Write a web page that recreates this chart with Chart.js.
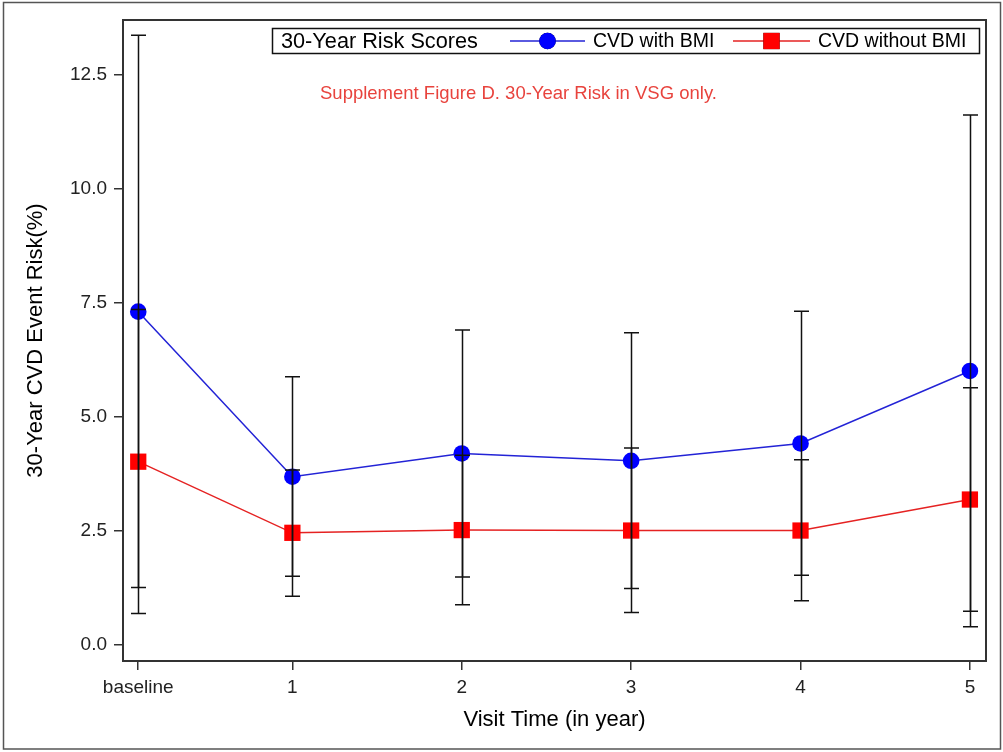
<!DOCTYPE html>
<html><head><meta charset="utf-8">
<script src="https://cdn.jsdelivr.net/npm/chart.js@4/dist/chart.umd.min.js"></script>
<style>html,body{margin:0;padding:0;background:#fff}#wrap{width:1003px;height:752px}</style>
</head><body><div id="wrap"><canvas id="c" width="1003" height="752"></canvas></div>
<script>
// ---- data ----
const visitLabels = ['baseline', '1', '2', '3', '4', '5'];
const visitYears = [0.09, 1, 2, 3, 4, 5];
const yTickValues = [0, 2.5, 5, 7.5, 10, 12.5];
const withBMI = [7.31, 3.69, 4.20, 4.04, 4.42, 6.01];
const withBMIUpper = [13.37, 5.88, 6.91, 6.85, 7.32, 11.62];
const withBMILower = [1.26, 1.51, 1.49, 1.24, 1.53, 0.40];
const withoutBMI = [4.02, 2.46, 2.52, 2.51, 2.51, 3.19];
const withoutBMIUpper = [7.36, 3.84, 4.16, 4.32, 4.06, 5.64];
const withoutBMILower = [0.69, 1.07, 0.88, 0.71, 0.97, 0.74];
const legendTitle = '30-Year Risk Scores';
const noteText = 'Supplement Figure D. 30-Year Risk in VSG only.';

const FONT = "'Liberation Sans', Arial, sans-serif";

const errorSets = [
  {lo: withBMILower, hi: withBMIUpper},
  {lo: withoutBMILower, hi: withoutBMIUpper}
];

const decor = {
  id: 'decor',
  beforeDraw(chart) {
    const ctx = chart.ctx;
    ctx.save();
    ctx.fillStyle = '#fff';
    ctx.fillRect(0, 0, chart.width, chart.height);
    ctx.restore();
  },
  afterDatasetsDraw(chart) {
    const {ctx, scales: {x, y}} = chart;
    ctx.save();
    ctx.strokeStyle = '#111';
    ctx.lineWidth = 1.5;
    errorSets.forEach(({lo, hi}) => {
      visitYears.forEach((t, i) => {
        const px = Math.round(x.getPixelForValue(t)) + 0.5;
        const y1 = y.getPixelForValue(lo[i]);
        const y2 = y.getPixelForValue(hi[i]);
        ctx.beginPath();
        ctx.moveTo(px, y1); ctx.lineTo(px, y2);
        ctx.moveTo(px - 7.5, y1); ctx.lineTo(px + 7.5, y1);
        ctx.moveTo(px - 7.5, y2); ctx.lineTo(px + 7.5, y2);
        ctx.stroke();
      });
    });
    ctx.restore();
  },
  afterDraw(chart) {
    const {ctx, chartArea: a} = chart;
    ctx.save();
    // plot frame
    ctx.strokeStyle = '#333';
    ctx.lineWidth = 2;
    ctx.strokeRect(a.left, a.top, a.right - a.left, a.bottom - a.top);
    // outer border
    ctx.strokeStyle = '#555';
    ctx.lineWidth = 1.5;
    ctx.strokeRect(3.5, 2.5, 997, 746.5);

    // legend box
    const bx = 272.5, by = 28.5, bw = 707, bh = 25;
    ctx.fillStyle = '#fff';
    ctx.fillRect(bx, by, bw, bh);
    ctx.strokeStyle = '#111';
    ctx.lineWidth = 1.5;
    ctx.strokeRect(bx, by, bw, bh);
    const cy = by + bh / 2;
    ctx.fillStyle = '#000';
    ctx.textBaseline = 'middle';
    ctx.textAlign = 'left';
    ctx.font = '21.7px ' + FONT;
    ctx.fillText(legendTitle, 281, cy + 1);
    const items = [
      {x0: 510, x1: 585, tx: 593},
      {x0: 733, x1: 810, tx: 818}
    ];
    chart.data.datasets.forEach((ds, i) => {
      const it = items[i];
      ctx.strokeStyle = ds.borderColor;
      ctx.lineWidth = ds.borderWidth;
      ctx.beginPath(); ctx.moveTo(it.x0, cy); ctx.lineTo(it.x1, cy); ctx.stroke();
      Chart.helpers.drawPoint(ctx, {
        pointStyle: ds.pointStyle, radius: ds.pointRadius, rotation: 0, borderWidth: 0
      }, (it.x0 + it.x1) / 2, cy);
      ctx.fillStyle = ds.pointBackgroundColor;
      ctx.fill();
      ctx.fillStyle = '#000';
      ctx.font = '19.5px ' + FONT;
      ctx.fillText(ds.label, it.tx, cy + 1);
    });

    // note text
    ctx.fillStyle = '#e8433d';
    ctx.font = '18.5px ' + FONT;
    ctx.fillText(noteText, 320, 94);
    ctx.restore();
  }
};

new Chart(document.getElementById('c'), {
  type: 'line',
  data: {
    datasets: [
      {
        label: 'CVD with BMI',
        data: visitYears.map((t, i) => ({x: t, y: withBMI[i]})),
        borderColor: '#2323d6',
        borderWidth: 1.5,
        pointStyle: 'circle',
        pointRadius: 8.3,
        pointHoverRadius: 8.3,
        pointBackgroundColor: '#0000ff',
        pointBorderColor: '#0000ff',
        pointBorderWidth: 0,
        tension: 0
      },
      {
        label: 'CVD without BMI',
        data: visitYears.map((t, i) => ({x: t, y: withoutBMI[i]})),
        borderColor: '#e52222',
        borderWidth: 1.5,
        pointStyle: 'rect',
        pointRadius: 11.5,
        pointHoverRadius: 11.5,
        pointBackgroundColor: '#ff0000',
        pointBorderColor: '#ff0000',
        pointBorderWidth: 0,
        tension: 0
      }
    ]
  },
  options: {
    responsive: false,
    animation: false,
    events: [],
    layout: {padding: {left: 4, top: 20, right: 17, bottom: 3}},
    plugins: {legend: {display: false}, tooltip: {enabled: false}, title: {display: false}},
    scales: {
      x: {
        type: 'linear',
        min: 0,
        max: 5.095,
        afterBuildTicks: s => { s.ticks = visitYears.map(v => ({value: v})); },
        afterFit: s => { s.height = 88; },
        grid: {display: true, drawOnChartArea: false, drawTicks: true, tickLength: 9, color: '#333', lineWidth: 1.5},
        border: {display: false},
        ticks: {
          autoSkip: false, maxRotation: 0, padding: 6, color: '#222',
          font: {family: FONT, size: 19},
          callback: (v, i) => visitLabels[i]
        },
        title: {display: true, text: 'Visit Time (in year)', color: '#000', font: {family: FONT, size: 22}, padding: {top: 0, bottom: 16}}
      },
      y: {
        type: 'linear',
        min: -0.351,
        max: 13.706,
        afterBuildTicks: s => { s.ticks = yTickValues.map(v => ({value: v})); },
        afterFit: s => { s.width = 119; },
        grid: {display: true, drawOnChartArea: false, drawTicks: true, tickLength: 9, color: '#333', lineWidth: 1.5},
        border: {display: false},
        ticks: {
          padding: 7, color: '#222',
          font: {family: FONT, size: 19},
          callback: v => Number(v).toFixed(1)
        },
        title: {display: true, text: '30-Year CVD Event Risk(%)', color: '#000', font: {family: FONT, size: 22}, padding: {top: 19, bottom: 0}}
      }
    }
  },
  plugins: [decor]
});
</script>
</body></html>
